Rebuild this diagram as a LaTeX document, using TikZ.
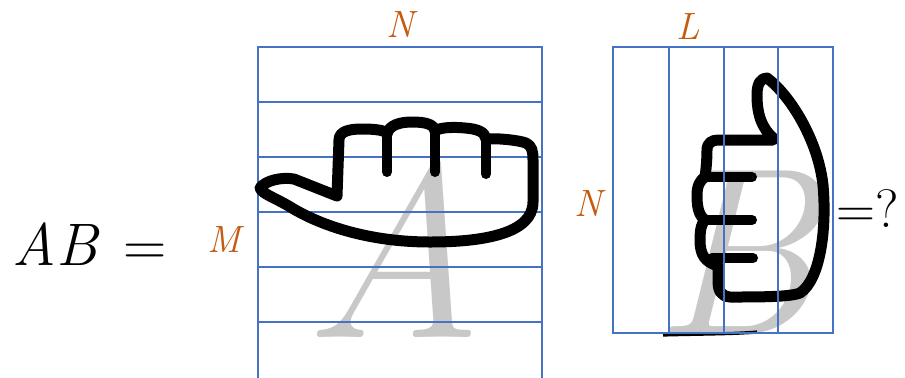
\documentclass[tikz,border=0pt]{standalone}
\usepackage{xcolor}
\definecolor{gridblue}{RGB}{68,114,196}
\definecolor{dimorange}{RGB}{197,90,17}
\definecolor{lettergray}{RGB}{200,200,200}

\begin{document}
\begin{tikzpicture}[x=0.5pt,y=-0.5pt,inner sep=0pt,
  gridline/.style={gridblue,line width=0.9pt},
  hand/.style={line width=5.5pt,line join=round,line cap=round},
  knuckle/.style={line width=5pt,line cap=round},
  dim/.style={dimorange,font=\fontsize{19}{19}\selectfont\itshape},
  big/.style={font=\fontsize{30}{30}\selectfont}]
  \useasboundingbox (0,0) rectangle (905,377);
  \node[big,anchor=base west] (lhs) at (12,265) {\textit{AB}\hspace{0.4em}=};

  % matrix A: M rows, N columns
  \node[lettergray,anchor=base,font=\fontsize{124}{124}\selectfont\itshape] (letterA) at (394,337) {A};
  \foreach \y in {47,102,...,322}
    \draw[gridline] (258,\y) -- (542,\y);
  \draw[gridline] (258,47) rectangle (542,380);
  \draw[hand] (260,188) .. controls (266,180) and (282,177) .. (294,179)
    -- (337,196) -- (339,140)
    .. controls (339,131) and (350,129) .. (362,129)
    .. controls (374,129) and (386,130) .. (387,134)
    .. controls (389,125) and (400,122) .. (412,122)
    .. controls (425,122) and (434,124) .. (435,131)
    .. controls (440,127) and (455,127) .. (465,128)
    .. controls (478,129) and (485,132) .. (486,139)
    .. controls (496,138) and (518,140) .. (526,143)
    .. controls (532,146) and (533,151) .. (533,160)
    -- (533,202)
    .. controls (533,234) and (482,242) .. (430,242)
    .. controls (370,242) and (322,226) .. (292,208)
    .. controls (276,198) and (262,194) .. cycle;
  \draw[knuckle] (387,134) -- (387,172);
  \draw[knuckle] (435,131) -- (435,172);
  \draw[knuckle] (486,139) -- (486,174);
  \node[dim] (cols) at (400,25) {N};
  \node[dim] (rows) at (224,240) {M};

  % matrix B: N rows, L columns
  \node[lettergray,anchor=base,font=\fontsize{119}{119}\selectfont\itshape] (letterB) at (735,333) {B};
  \draw[line width=1.6pt] (663,335) .. controls (700,334) and (735,334) .. (757,332);
  \draw[hand] (773,138) .. controls (762,128) and (757,115) .. (757,95)
    .. controls (757,83) and (761,78) .. (767,78)
    .. controls (790,95) and (818,140) .. (823,185)
    .. controls (827,230) and (820,280) .. (800,293)
    .. controls (790,297) and (760,297) .. (730,297)
    .. controls (720,296) and (718,290) .. (718,280) -- (718,266)
    .. controls (705,262) and (700,255) .. (700,240)
    .. controls (700,228) and (702,223) .. (705,220)
    .. controls (698,215) and (697,205) .. (697,195)
    .. controls (697,186) and (700,180) .. (705,177)
    .. controls (706,170) and (707,160) .. (707,150)
    .. controls (707,143) and (712,140) .. (718,140) -- (773,140);
  \draw[knuckle] (705,177) -- (752,177);
  \draw[knuckle] (703,220) -- (752,220);
  \draw[knuckle] (712,258) -- (753,258);
  \foreach \x in {669,724,778}
    \draw[gridline] (\x,47) -- (\x,333);
  \draw[gridline] (613,47) rectangle (833,333);
  \node[dim] (inner) at (588,204) {N};
  \node[dim] (outer) at (688,27) {L};

  \node[big,anchor=base west,font=\fontsize{27}{27}\selectfont] (ask) at (836,227) {=?};
\end{tikzpicture}
\end{document}
